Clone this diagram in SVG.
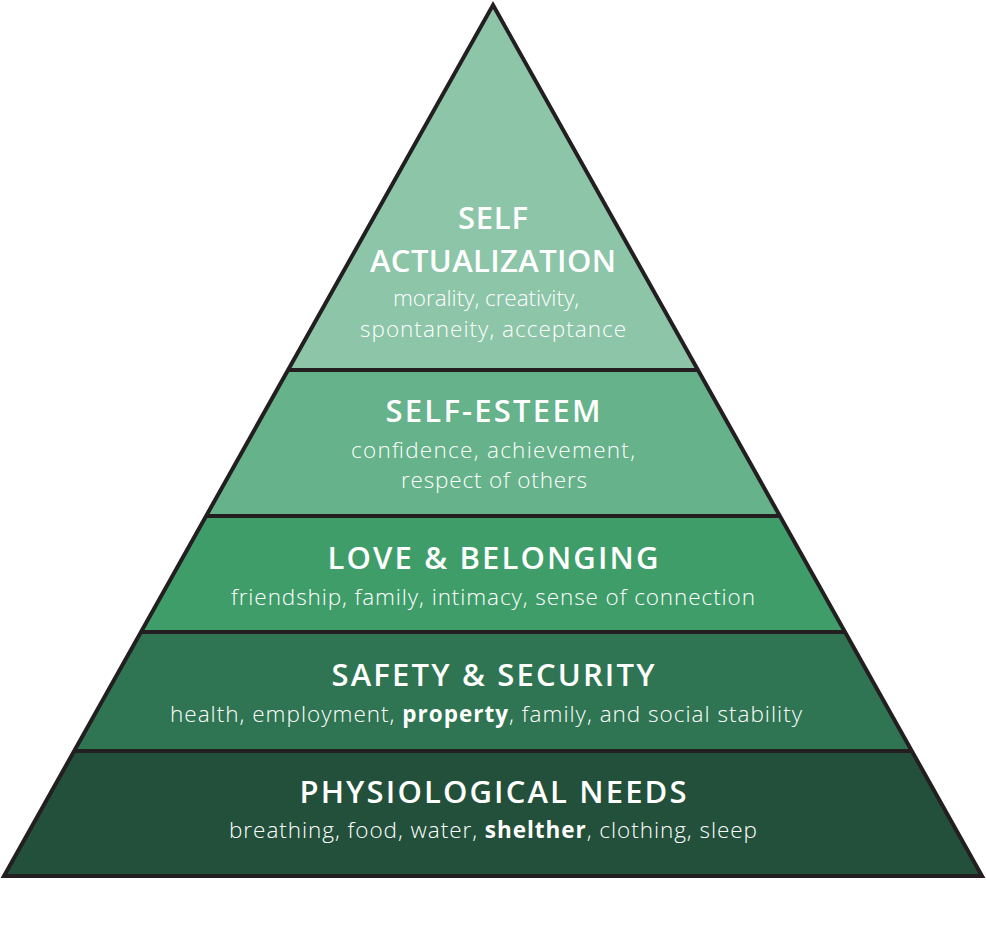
<svg xmlns="http://www.w3.org/2000/svg" width="986" height="925" viewBox="0 0 986 925">
<style>
.title{font-family:"Open Sans","Noto Sans","Liberation Sans",sans-serif;font-weight:600;font-size:31px;fill:#ffffff;text-anchor:middle}
.sub{font-family:"Open Sans","Noto Sans","Liberation Sans",sans-serif;font-weight:300;font-size:22.5px;fill:#ffffff;text-anchor:middle}
.b{font-weight:700}
.line{stroke:#231f20;stroke-width:4;fill:none;stroke-linejoin:miter}
</style>
<rect width="986" height="925" fill="#ffffff"/>
<g id="self-actualization">
<polygon points="493,5 288,370 698,370" fill="#8cc5a8"/>
<text class="title" x="493" y="229" textLength="70">SELF</text>
<text class="title" x="493" y="272" textLength="246">ACTUALIZATION</text>
<text class="sub" x="486" y="306" textLength="186">morality, creativity,</text>
<text class="sub" x="493" y="337" textLength="266">spontaneity, acceptance</text>
</g>
<g id="self-esteem">
<polygon points="288,370 698,370 780,516 206,516" fill="#66b28a"/>
<text class="title" x="493" y="422" textLength="215">SELF-ESTEEM</text>
<text class="sub" x="493" y="458" textLength="284">confidence, achievement,</text>
<text class="sub" x="494" y="488" textLength="186">respect of others</text>
</g>
<g id="love-belonging">
<polygon points="206,516 780,516 845,632 141,632" fill="#3f9d6a"/>
<text class="title" x="493" y="569" textLength="331">LOVE &amp; BELONGING</text>
<text class="sub" x="493" y="605" textLength="524">friendship, family, intimacy, sense of connection</text>
</g>
<g id="safety-security">
<polygon points="141,632 845,632 912,751 74,751" fill="#2f7553"/>
<text class="title" x="493" y="686" textLength="323">SAFETY &amp; SECURITY</text>
<text class="sub" x="486" y="722" textLength="632">health, employment, <tspan class="b">property</tspan>, family, and social stability</text>
</g>
<g id="physiological-needs">
<polygon points="74,751 912,751 982,876 4,876" fill="#22503a"/>
<text class="title" x="493" y="803" textLength="387">PHYSIOLOGICAL NEEDS</text>
<text class="sub" x="493" y="838" textLength="528">breathing, food, water, <tspan class="b">shelther</tspan>, clothing, sleep</text>
</g>
<g id="connectors">
<line class="line" x1="288" y1="370" x2="698" y2="370"/>
<line class="line" x1="206" y1="516" x2="780" y2="516"/>
<line class="line" x1="141" y1="632" x2="845" y2="632"/>
<line class="line" x1="74" y1="751" x2="912" y2="751"/>
<polygon class="line" points="493,5 982,876 4,876"/>
</g>
</svg>
